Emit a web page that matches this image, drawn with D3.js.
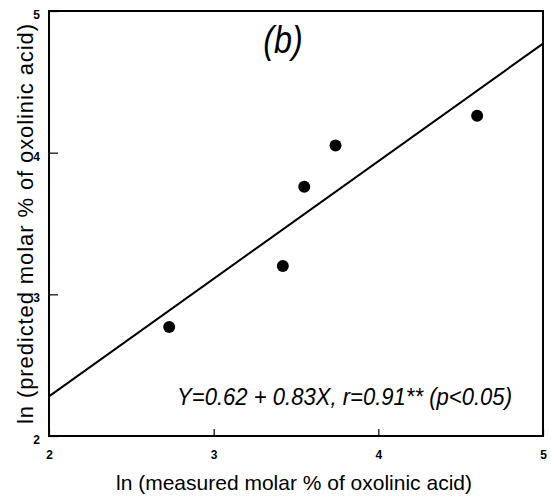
<!DOCTYPE html>
<html>
<head>
<meta charset="utf-8">
<script src="https://cdn.jsdelivr.net/npm/d3@7.9.0/dist/d3.min.js"></script>
<style>
  body { margin: 0; background: #fff; }
  svg { display: block; font-family: "Liberation Sans", Arial, sans-serif; }
</style>
</head>
<body>
<svg id="chart" width="551" height="501"></svg>
<script>
// measured vs predicted ln(molar %) of oxolinic acid
const measured = [2.73, 3.42, 3.55, 3.74, 4.60];
const predicted = [2.77, 3.20, 3.76, 4.05, 4.26];
const fitIntercept = 0.62;
const fitSlope = 0.83;
const xTicks = [2, 3, 4, 5];
const yTicks = [2, 3, 4, 5];

const svg = d3.select('#chart');
const plotLeft = 49, plotRight = 543, plotTop = 11, plotBottom = 436;

let x = d3.scaleLinear().domain([2, 5]).range([plotLeft, plotRight]);
let y = d3.scaleLinear().domain([2, 5]).range([plotBottom, plotTop]);

// axes, ticks pointing inside
let xAxis = svg.append('g')
  .attr('transform', `translate(0,${plotBottom})`)
  .call(d3.axisBottom(x).tickValues(xTicks).tickFormat(d3.format('d')).tickSize(-7).tickPadding(14));
let yAxis = svg.append('g')
  .attr('transform', `translate(${plotLeft},0)`)
  .call(d3.axisLeft(y).tickValues(yTicks).tickFormat(d3.format('d')).tickSize(-9).tickPadding(9));

[xAxis, yAxis].forEach(g => {
  g.select('.domain').remove();
  g.selectAll('line').attr('stroke', '#000').attr('stroke-width', 1.2);
  g.selectAll('text')
    .attr('fill', '#000')
    .style('font-size', '12px')
    .style('font-weight', 'bold')
    .style('font-family', '"Liberation Sans", Arial, sans-serif');
});
yAxis.selectAll('text').attr('dy', '0.62em');

// frame
svg.append('rect')
  .attr('x', plotLeft).attr('y', plotTop)
  .attr('width', plotRight - plotLeft).attr('height', plotBottom - plotTop)
  .attr('fill', 'none').attr('stroke', '#000').attr('stroke-width', 2);

// regression line
let line = d3.line().x(d => x(d)).y(d => y(fitIntercept + fitSlope * d));
svg.append('path')
  .attr('d', line([2, 5]))
  .attr('fill', 'none').attr('stroke', '#000').attr('stroke-width', 2);

// points
svg.selectAll('circle.pt')
  .data(measured)
  .join('circle')
  .attr('class', 'pt')
  .attr('cx', d => x(d))
  .attr('cy', (d, i) => y(predicted[i]))
  .attr('r', 6)
  .attr('fill', '#000');

// panel label (narrow italic, like the original)
svg.append('text')
  .attr('transform', 'translate(283,53) scale(0.85,1)')
  .attr('text-anchor', 'middle')
  .style('font-size', '38px').style('font-style', 'italic')
  .text('(b)');

// equation
svg.append('text')
  .attr('transform', 'translate(512,405) scale(0.92,1)')
  .attr('text-anchor', 'end')
  .style('font-size', '24px').style('font-style', 'italic')
  .text('Y=0.62 + 0.83X, r=0.91** (p<0.05)');

// axis titles
svg.append('text')
  .attr('x', 294).attr('y', 490)
  .attr('text-anchor', 'middle')
  .style('font-size', '21px')
  .text('ln (measured molar % of oxolinic acid)');

svg.append('text')
  .attr('transform', 'translate(33,224) rotate(-90)')
  .attr('text-anchor', 'middle')
  .attr('textLength', 400)
  .attr('lengthAdjust', 'spacing')
  .style('font-size', '22px')
  .text('ln (predicted molar % of oxolinic acid)');
</script>
</body>
</html>
